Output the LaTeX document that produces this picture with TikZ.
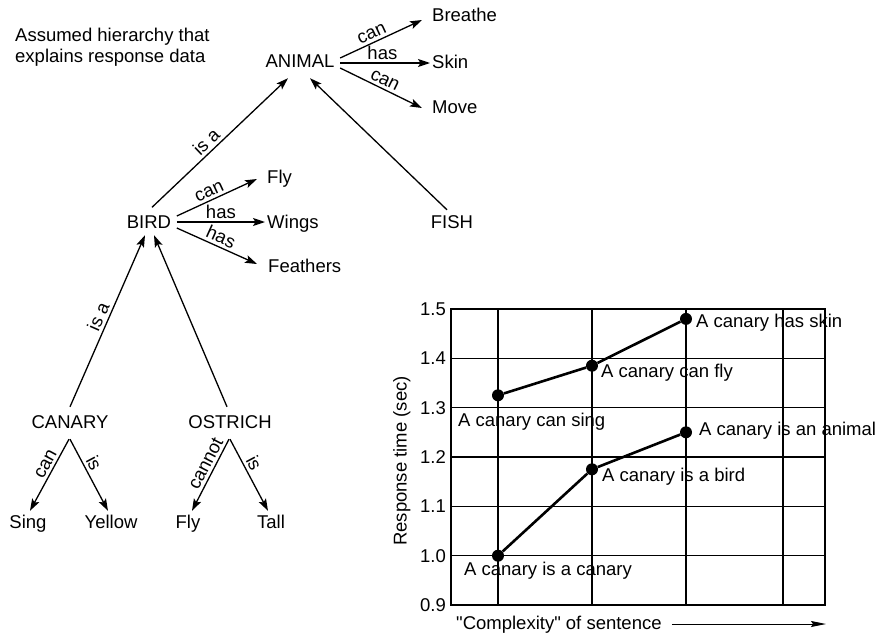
\documentclass[tikz,border=0pt]{standalone}
\usepackage{fontspec}
\setmainfont{Liberation Sans}[Ligatures=TeXOff]
\usetikzlibrary{arrows.meta,calc}
\begin{document}
\begin{tikzpicture}[x=1pt,y=-1pt,
  every node/.style={font=\fontsize{18.5}{21}\selectfont, inner sep=2pt},
  lbl/.style={text height=13pt, text depth=0pt},
  arr/.style={line width=1.3pt, -{Stealth[length=12pt,width=8pt,inset=2.5pt]}},
  rel/.style={sloped, above, inner sep=2.8pt},
  gridline/.style={line width=1.3pt},
  dataline/.style={line width=2.6pt},
  dot/.style={circle, fill=black, inner sep=0pt, minimum size=12pt},
]
\useasboundingbox (0,0) rectangle (881,632);

% ---- hierarchy ----
\node[lbl, anchor=west] (t1) at (13,35) {Assumed hierarchy that};
\node[lbl, anchor=west] (t2) at (13,56) {explains response data};

\node[lbl] (animal) at (300,61) {ANIMAL};
\node[lbl, anchor=west] (breathe) at (430,15) {Breathe};
\node[lbl, anchor=west] (skin) at (430,62) {Skin};
\node[lbl, anchor=west] (move) at (430,107) {Move};
\node[lbl] (bird) at (149,222) {BIRD};
\node[lbl, anchor=west] (fly) at (265,177) {Fly};
\node[lbl, anchor=west] (wings) at (265,222) {Wings};
\node[lbl, anchor=west] (feathers) at (266,266) {Feathers};
\node[lbl] (fish) at (452,222) {FISH};
\node[lbl] (canary) at (70,422) {CANARY};
\node[lbl] (ostrich) at (230,422) {OSTRICH};
\node[lbl] (sing) at (28,522) {Sing};
\node[lbl] (yellow) at (111,522) {Yellow};
\node[lbl] (flyb) at (188,522) {Fly};
\node[lbl] (tall) at (271,522) {Tall};

\draw[arr] ($(bird.north)+(3,-6)$) -- node[rel, pos=0.45] {is a} ($(animal.south)+(-12,8.5)$);
\draw[arr] ($(fish.north)+(-5,-3.5)$) -- ($(animal.south)+(10,8.5)$);
\draw[arr] ($(animal.east)+(3.5,-3)$) -- node[rel, pos=0.43] {can} ($(breathe.west)+(-8,5)$);
\draw[arr] ($(animal.east)+(3.5,2)$) -- node[rel, pos=0.47] {has} ($(skin.west)+(0,1)$);
\draw[arr] ($(animal.east)+(3.5,7)$) -- node[rel, pos=0.5] {can} ($(move.west)+(-8,1)$);

\draw[arr] ($(bird.east)+(3.5,-6)$) -- node[rel, pos=0.45] {can} ($(fly.west)+(-8,2)$);
\draw[arr] ($(bird.east)+(3.5,0)$) -- node[rel, pos=0.5] {has} (wings.west);
\draw[arr] ($(bird.east)+(3.5,6)$) -- node[rel, pos=0.5] {has} ($(feathers.west)+(-9,-2)$);

\draw[arr] ($(canary.north)+(0,-6.5)$) -- node[rel, pos=0.5] {is a} ($(bird.south)+(-4,4.5)$);
\draw[arr] ($(ostrich.north)+(-3,-6.5)$) -- ($(bird.south)+(5,4.5)$);

\draw[arr] ($(canary.south)+(-1,8.5)$) -- node[rel, pos=0.4] {can} ($(sing.north)+(2,-2.5)$);
\draw[arr] ($(canary.south)+(0,8.5)$) -- node[rel, pos=0.4] {is} ($(yellow.north)+(-3,-2.5)$);
\draw[arr] ($(ostrich.south)+(-1,8.5)$) -- node[rel, pos=0.4] {cannot} ($(flyb.north)+(4,-2.5)$);
\draw[arr] ($(ostrich.south)+(0,8.5)$) -- node[rel, pos=0.4] {is} ($(tall.north)+(-3,-2.5)$);

% ---- chart ----
\draw[gridline] (451,309) rectangle (825,605);
\foreach \y in {358.3,407.7,457,506.3,555.7}
  \draw[gridline] (451,\y) -- (825,\y);
\foreach \x in {498,592,686,783}
  \draw[gridline] (\x,309) -- (\x,605);

\foreach \v/\y in {1.5/309,1.4/358.3,1.3/407.7,1.2/457,1.1/506.3,1.0/555.7,0.9/605}
  \node[lbl, anchor=east] at (448,\y) {\v};

\node[lbl, rotate=90] (ytitle) at (400,461) {Response time (sec)};

\node[dot] (a1) at (498,395.3) {};
\node[dot] (a2) at (592,365.7) {};
\node[dot] (a3) at (686,318.9) {};
\node[dot] (b1) at (498,555.7) {};
\node[dot] (b2) at (592,469.3) {};
\node[dot] (b3) at (686,432.3) {};
\draw[dataline] (a1) -- (a2) -- (a3);
\draw[dataline] (b1) -- (b2) -- (b3);

\node[lbl, anchor=west] at (694,321) {A canary has skin};
\node[lbl, anchor=west] at (599,371) {A canary can fly};
\node[lbl, anchor=west] at (456,420) {A canary can sing};
\node[lbl, anchor=west] at (697,429) {A canary is an animal};
\node[lbl, anchor=west] at (600,475) {A canary is a bird};
\node[lbl, anchor=west] at (462,569) {A canary is a canary};

\node[lbl, anchor=west] (xtitle) at (454,623) {"Complexity" of sentence};
\coordinate (xend) at (826,624);
\draw[line width=1pt, -{Stealth[length=15pt,width=6pt,inset=2pt]}] ($(xtitle.east)+(8,1)$) -- (xend);
\end{tikzpicture}
\end{document}
